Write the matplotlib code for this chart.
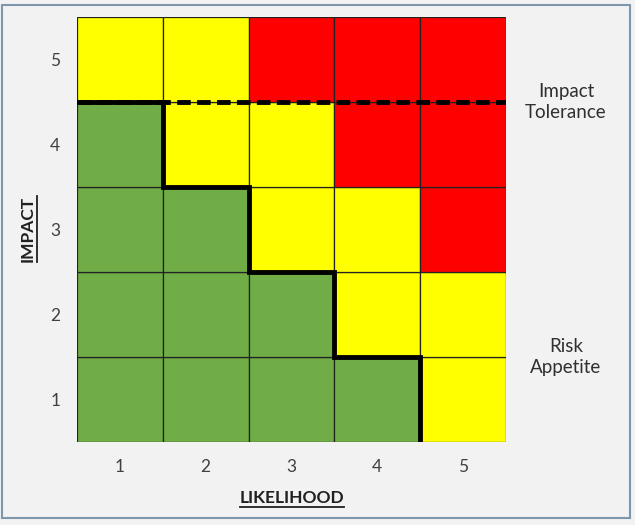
import matplotlib
matplotlib.use("Agg")
import matplotlib.pyplot as plt
from matplotlib.patches import Rectangle
from matplotlib.lines import Line2D

likelihood = [1, 2, 3, 4, 5]
impact = [1, 2, 3, 4, 5]
# rows: impact 1..5, columns: likelihood 1..5 ; G=green, Y=yellow, R=red
zones = [
    ["G", "G", "G", "G", "Y"],  # impact 1
    ["G", "G", "G", "Y", "Y"],  # impact 2
    ["G", "G", "Y", "Y", "R"],  # impact 3
    ["G", "Y", "Y", "R", "R"],  # impact 4
    ["Y", "Y", "R", "R", "R"],  # impact 5
]
zone_colors = {"G": "#70ad47", "Y": "#ffff00", "R": "#ff0000"}
# highest impact level within risk appetite for each likelihood
appetite_max = [4, 3, 2, 1, 0]
tolerance_level = 4

plt.rcParams['font.family'] = ['Lato', 'DejaVu Sans']

fig = plt.figure(figsize=(6.35, 5.25), dpi=100)
fig.patch.set_facecolor("#f2f2f2")
fig.patches.append(Rectangle((2/635, 7/525), 628/635, 513/525, transform=fig.transFigure,
                             fill=False, edgecolor="#7f97ad", lw=1.5))

ax = fig.add_axes([77/635, 83/525, 429/635, 425/525])
for i, imp in enumerate(impact):
    for j, lk in enumerate(likelihood):
        ax.add_patch(Rectangle((lk - 0.5, imp - 0.5), 1, 1,
                               facecolor=zone_colors[zones[i][j]],
                               edgecolor="#222222", lw=0.9))

# risk appetite staircase
xs_s, ys_s = [], []
for j, lk in enumerate(likelihood):
    top = appetite_max[j] + 0.5
    if appetite_max[j] == 0:
        xs_s.append(lk - 0.5); ys_s.append(top)
        break
    xs_s += [lk - 0.5, lk + 0.5]
    ys_s += [top, top]
ax.plot(xs_s, ys_s, color="black", lw=3.5, solid_joinstyle="miter", zorder=5)

# impact tolerance dashed line
ax.plot([0.5, 5.5], [tolerance_level + 0.5] * 2, color="black", lw=3.5,
        dashes=(2.8, 1.3), zorder=6)

ax.set_xlim(0.5, 5.5)
ax.set_ylim(0.5, 5.5)
ax.set_xticks(likelihood)
ax.set_yticks(impact)
ax.tick_params(length=0, labelsize=12.5, colors="#404040", pad=12)
for s in ax.spines.values():
    s.set_visible(False)
ax.set_facecolor("#f2f2f2")

t1 = fig.text(292/635, 1 - 498/525, "LIKELIHOOD", ha="center", va="center",
              fontsize=12.5, fontweight="bold", color="#202020")
t2 = fig.text(28/635, 1 - 229/525, "IMPACT", ha="center", va="center", rotation=90,
              fontsize=12.5, fontweight="bold", color="#202020")
fig.text(566/635, 1 - 102/525, "Impact\nTolerance", ha="center", va="center",
         fontsize=13.5, color="#303030", linespacing=1.35)
fig.text(566/635, 1 - 357/525, "Risk\nAppetite", ha="center", va="center",
         fontsize=13.5, color="#303030", linespacing=1.35)

fig.canvas.draw()
r = fig.canvas.get_renderer()
inv = fig.transFigure.inverted()
b1 = t1.get_window_extent(r)
(x0, y0), (x1, y1) = inv.transform([(b1.x0, b1.y0 - 1), (b1.x1, b1.y0 - 1)])
fig.lines.append(Line2D([x0, x1], [y0, y1], transform=fig.transFigure, color="#202020", lw=1.3))
b2 = t2.get_window_extent(r)
(x0, y0), (x1, y1) = inv.transform([(b2.x1 + 1, b2.y0), (b2.x1 + 1, b2.y1)])
fig.lines.append(Line2D([x0, x1], [y0, y1], transform=fig.transFigure, color="#202020", lw=1.3))

fig.savefig("out.png", dpi=100, facecolor=fig.get_facecolor())
